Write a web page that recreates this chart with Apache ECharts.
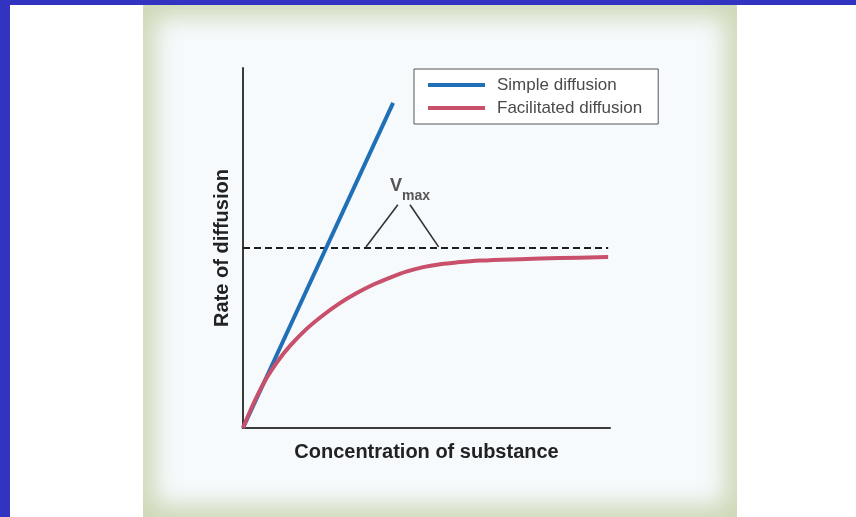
<!DOCTYPE html>
<html>
<head>
<meta charset="utf-8">
<script src="https://cdn.jsdelivr.net/npm/echarts@6/dist/echarts.min.js"></script>
<style>
  html, body { margin: 0; padding: 0; width: 856px; height: 517px; overflow: hidden; background: #ffffff; }
  #topband { position: absolute; left: 0; top: 0; width: 856px; height: 5px; background: #3333c2; }
  #leftband { position: absolute; left: 0; top: 0; width: 10px; height: 517px; background: #3333c2; }
  #panel { position: absolute; left: 143px; top: 5px; width: 594px; height: 512px; background: #f7fafd;
           box-shadow: inset 0 0 24px 12px #cdd8b6; }
  #chart { position: absolute; left: 0; top: 0; width: 856px; height: 517px; }
</style>
</head>
<body>
<div id="topband"></div>
<div id="leftband"></div>
<div id="panel"></div>
<div id="chart"></div>
<script>
// ---- data ----
const seriesNames = ['Simple diffusion', 'Facilitated diffusion'];
const simpleDiffusion = [[0, 0], [4.09, 90.3]];
const facilitatedDiffusion = [
  [0, 0], [0.19, 4.6], [0.37, 8.6], [0.65, 14.0], [0.92, 18.2], [1.28, 22.8], [1.74, 27.6],
  [2.19, 31.4], [2.64, 34.7], [3.10, 37.5], [3.54, 39.8], [4.01, 41.8], [4.47, 43.5],
  [4.91, 44.7], [5.37, 45.5], [5.82, 46.0], [6.46, 46.5], [7.55, 46.9], [8.64, 47.2], [9.95, 47.5]
];
const vmaxLine = [[0, 50], [9.95, 50]];
const vmaxPointerLeft = [[4.22, 62], [3.35, 50.3]];
const vmaxPointerRight = [[4.55, 62], [5.33, 50.3]];
const vmaxLabelPos = [[4.55, 66]];
const xTitle = 'Concentration of substance';
const yTitle = 'Rate of diffusion';

const chart = echarts.init(document.getElementById('chart'), null, { renderer: 'canvas' });
const font = '"Liberation Sans", Arial, sans-serif';
const option = {
  backgroundColor: 'transparent',
  animation: false,
  grid: { left: 243, top: 68, right: 246, bottom: 89 },
  legend: {
    data: seriesNames,
    orient: 'vertical',
    left: 414, top: 69,
    padding: [6, 16, 6, 14],
    itemGap: 3,
    itemWidth: 57, itemHeight: 4,
    icon: 'rect',
    backgroundColor: '#ffffff',
    borderColor: '#555555', borderWidth: 1, borderRadius: 0,
    textStyle: { fontFamily: font, fontSize: 17, color: '#4a4a4a', lineHeight: 20, padding: [0, 0, 0, 7] }
  },
  xAxis: {
    type: 'value', min: 0, max: 10,
    name: xTitle, nameLocation: 'middle', nameGap: 14,
    nameTextStyle: { fontFamily: font, fontSize: 20, fontWeight: 'bold', color: '#222222' },
    axisLine: { show: true, onZero: false, lineStyle: { color: '#3a3a3a', width: 2 } },
    axisTick: { show: false }, axisLabel: { show: false }, splitLine: { show: false }
  },
  yAxis: {
    type: 'value', min: 0, max: 100,
    name: yTitle, nameLocation: 'middle', nameGap: 11, nameRotate: 90,
    nameTextStyle: { fontFamily: font, fontSize: 20, fontWeight: 'bold', color: '#222222' },
    axisLine: { show: true, onZero: false, lineStyle: { color: '#3a3a3a', width: 2 } },
    axisTick: { show: false }, axisLabel: { show: false }, splitLine: { show: false }
  },
  series: [
    {
      name: 'Vmax', type: 'line', data: vmaxLine, symbol: 'none', silent: true, z: 1,
      lineStyle: { color: '#1e1e1e', width: 2, type: [7, 4] }
    },
    {
      name: 'ptrL', type: 'line', data: vmaxPointerLeft, symbol: 'none', silent: true, z: 1,
      lineStyle: { color: '#333333', width: 1.6 }
    },
    {
      name: 'ptrR', type: 'line', data: vmaxPointerRight, symbol: 'none', silent: true, z: 1,
      lineStyle: { color: '#333333', width: 1.6 }
    },
    {
      name: 'label', type: 'scatter', data: vmaxLabelPos, symbolSize: 0, silent: true,
      label: {
        show: true, position: 'inside',
        formatter: '{v|V}{s|max}',
        rich: {
          v: { fontFamily: font, fontSize: 18, fontWeight: 'bold', color: '#2a2a2a', lineHeight: 26, verticalAlign: 'top', padding: [0, 0, 8, 0] },
          s: { fontFamily: font, fontSize: 14, fontWeight: 'bold', color: '#2a2a2a', lineHeight: 26, verticalAlign: 'bottom', padding: [8, 0, 0, 0] }
        }
      }
    },
    {
      name: seriesNames[0], type: 'line', data: simpleDiffusion, symbol: 'none', z: 2,
      itemStyle: { color: '#1f70b6' },
      lineStyle: { color: '#1f70b6', width: 4 }
    },
    {
      name: seriesNames[1], type: 'line', data: facilitatedDiffusion, symbol: 'none', smooth: 0.35, z: 3,
      itemStyle: { color: '#c8506a' },
      lineStyle: { color: '#c8506a', width: 4 }
    }
  ]
};
chart.setOption(option);
</script>
</body>
</html>
